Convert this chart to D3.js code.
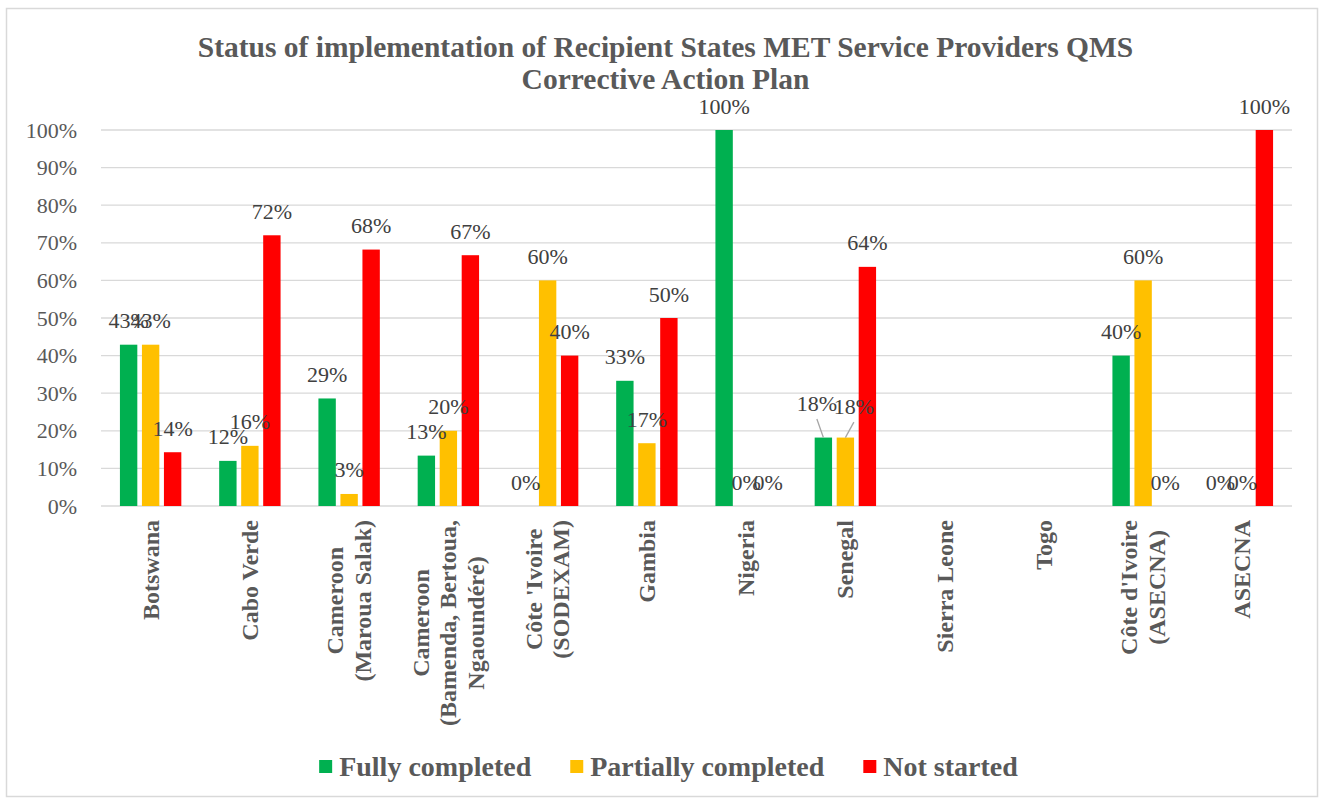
<!DOCTYPE html>
<meta charset="utf-8">
<script src="https://cdn.jsdelivr.net/npm/d3@7"></script>
<style>
body { margin: 0; background: #fff; }
text { font-family: "Liberation Serif", "Times New Roman", serif; }
</style>
<body></body>
<script>
// categories (line breaks as in the original axis labels)
var categories = ["Botswana", "Cabo Verde", "Cameroon\n(Maroua Salak)",
  "Cameroon\n(Bamenda, Bertoua,\nNgaoundéré)", "Côte 'Ivoire\n(SODEXAM)", "Gambia",
  "Nigeria", "Senegal", "Sierra Leone", "Togo", "Côte d'Ivoire\n(ASECNA)", "ASECNA"];
var seriesNames = ["Fully completed", "Partially completed", "Not started"];
var fully     = [0.429, 0.12, 0.286, 0.134, 0,   0.333, 1, 0.182, null, null, 0.40, 0];
var partially = [0.429, 0.16, 0.032, 0.20,  0.60, 0.167, 0, 0.182, null, null, 0.60, 0];
var notStarted= [0.143, 0.72, 0.682, 0.667, 0.40, 0.50,  0, 0.636, null, null, 0,    1];
var yTicks = [0, 0.1, 0.2, 0.3, 0.4, 0.5, 0.6, 0.7, 0.8, 0.9, 1];

var colors = ["#00B050", "#FFC000", "#FF0000"];
// manually moved data labels (Senegal), with leader lines
var nudges = {"7-0": [-6.5, -10], "7-1": [8.5, -7]};

var W = 1323, H = 800;
var svg = d3.select("body").append("svg").attr("width", W).attr("height", H);

svg.append("rect").attr("x", 6.5).attr("y", 8.5).attr("width", 1311).attr("height", 788)
  .attr("fill", "#fff").attr("stroke", "#d9d9d9").attr("stroke-width", 1.5);

var x0 = d3.scaleBand().domain(d3.range(categories.length)).range([101, 1292]);
var x1 = d3.scaleBand().domain(d3.range(3)).range([0, x0.bandwidth()])
  .paddingInner(0.21).paddingOuter(0.86);
var y = d3.scaleLinear().domain([0, 1]).range([506, 130]);

// title
var title = svg.append("text").attr("text-anchor", "middle").attr("fill", "#595959")
  .attr("font-weight", "bold").attr("font-size", "29.5px");
title.append("tspan").attr("x", 665.5).attr("y", 57)
  .text("Status of implementation of Recipient States MET Service Providers QMS");
title.append("tspan").attr("x", 665.5).attr("y", 89).text("Corrective Action Plan");

// gridlines
svg.append("g").selectAll("line").data(yTicks).enter().append("line")
  .attr("x1", 101).attr("x2", 1292)
  .attr("y1", function(d) { return y(d); }).attr("y2", function(d) { return y(d); })
  .attr("stroke", "#d9d9d9").attr("stroke-width", 1.3);

// y axis labels
svg.append("g").selectAll("text").data(yTicks).enter().append("text")
  .attr("x", 77).attr("y", function(d) { return y(d); })
  .attr("text-anchor", "end").attr("dominant-baseline", "central")
  .attr("fill", "#595959").attr("font-size", "22px")
  .text(d3.format(".0%"));

var rows = [];
[fully, partially, notStarted].forEach(function(vals, s) {
  vals.forEach(function(v, i) {
    if (v !== null) rows.push({i: i, s: s, v: v});
  });
});

svg.append("g").selectAll("rect").data(rows).enter().append("rect")
  .attr("x", function(d) { return x0(d.i) + x1(d.s); })
  .attr("width", x1.bandwidth())
  .attr("y", function(d) { return y(d.v); })
  .attr("height", function(d) { return y(0) - y(d.v); })
  .attr("fill", function(d) { return colors[d.s]; });

// data labels
var lab = svg.append("g");
rows.forEach(function(d) {
  var cx = x0(d.i) + x1(d.s) + x1.bandwidth() / 2;
  var top = y(d.v);
  var n = nudges[d.i + "-" + d.s] || [0, 0];
  var lx = cx + n[0], ly = top - 16.5 + n[1];
  if (nudges[d.i + "-" + d.s]) {
    lab.append("line").attr("x1", lx).attr("y1", ly + 8).attr("x2", cx).attr("y2", top)
      .attr("stroke", "#a6a6a6").attr("stroke-width", 1.3);
  }
  lab.append("text").attr("x", lx).attr("y", ly).attr("text-anchor", "middle")
    .attr("fill", "#404040").attr("font-size", "22px")
    .text(d3.format(".0%")(d.v));
});

// x axis labels, rotated, lines centred on each other, block ending at y=520
var xl = svg.append("g");
categories.forEach(function(c, i) {
  var lines = c.split("\n");
  var cx = x0(i) + x0.bandwidth() / 2;
  var texts = lines.map(function(t, k) {
    return xl.append("text").attr("text-anchor", "middle").attr("dominant-baseline", "central")
      .attr("fill", "#595959").attr("font-weight", "bold").attr("font-size", "24px").text(t);
  });
  var maxW = d3.max(texts, function(t) { return t.node().getComputedTextLength(); });
  texts.forEach(function(t, k) {
    var off = (k - (lines.length - 1) / 2) * 27.5;
    t.attr("transform", "translate(" + (cx + off) + "," + (520 + maxW / 2) + ") rotate(-90)");
  });
});

// legend
var leg = svg.append("g");
var items = seriesNames.map(function(name, s) {
  var g = leg.append("g");
  g.append("rect").attr("y", 760).attr("width", 13).attr("height", 13).attr("fill", colors[s]);
  var t = g.append("text").attr("x", 20).attr("y", 776).attr("fill", "#595959")
    .attr("font-weight", "bold").attr("font-size", "28px").text(name);
  return {g: g, w: 20 + t.node().getComputedTextLength()};
});
var gap = 39;
var total = d3.sum(items, function(d) { return d.w; }) + gap * (items.length - 1);
var lx = 668.5 - total / 2;
items.forEach(function(it) {
  it.g.attr("transform", "translate(" + lx + ",0)");
  lx += it.w + gap;
});
</script>
